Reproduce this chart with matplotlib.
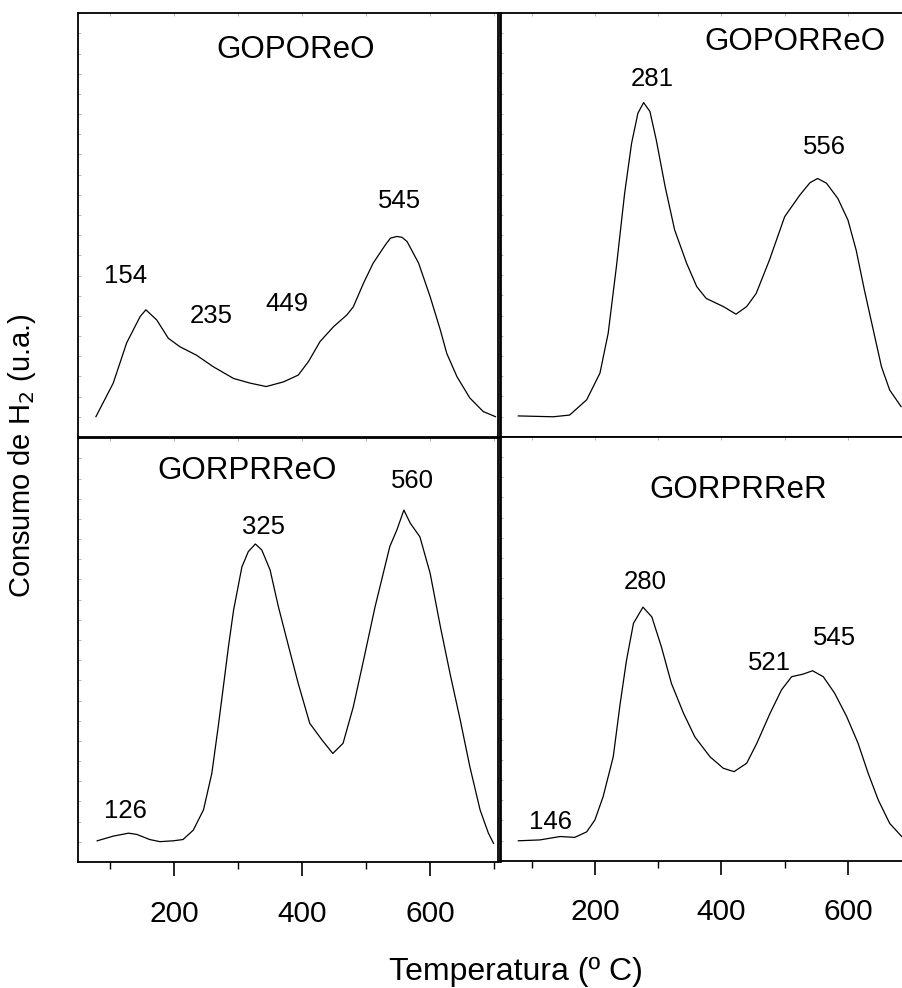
import matplotlib
matplotlib.use("Agg")
import matplotlib.pyplot as plt
from matplotlib.ticker import MultipleLocator, FixedLocator

plt.rcParams['font.family'] = ['Liberation Sans', 'DejaVu Sans']

# ---- data (temperature in ºC, H2 consumption in arbitrary units) ----
t_gopo = [78, 105, 126, 147, 156, 173, 191, 209, 235, 261, 293, 319, 344, 371, 394,
          410, 428, 449, 470, 480, 496, 511, 530, 538, 548, 556, 564, 582, 600, 616, 626,
          642, 662, 683, 702]
h_gopo = [4.8, 12.7, 22.2, 28.4, 30.0, 27.6, 23.3, 21.3, 19.3, 16.6, 13.8, 12.7, 11.9,
          13.0, 14.6, 17.8, 22.5, 26.0, 28.8, 30.7, 36.3, 41.0, 45.3, 46.9, 47.3, 47.1,
          46.1, 41.0, 33.1, 25.2, 19.7, 14.2, 9.2, 6.0, 4.8]

t_goporr = [79, 134, 160, 187, 208, 221, 234, 247, 258, 268, 277, 287, 297, 311, 326,
            345, 361, 376, 403, 423, 440, 455, 476, 500, 524, 540, 552, 566, 584, 600,
            613, 626, 640, 653, 666, 684]
h_goporr = [4.9, 4.7, 5.1, 8.7, 15.0, 24.4, 40.1, 57.4, 69.2, 76.3, 78.8, 76.7, 70.0,
            59.0, 48.8, 40.9, 35.4, 32.6, 30.7, 28.9, 30.7, 33.8, 41.7, 51.9, 57.0, 59.9,
            60.9, 59.8, 56.2, 51.1, 44.0, 34.6, 25.2, 16.5, 11.0, 7.1]

t_gorpro = [80, 105, 129, 142, 162, 178, 199, 214, 230, 246, 259, 269, 277, 285, 293,
            306, 316, 327, 337, 350, 363, 379, 394, 412, 431, 448, 464, 480, 496, 514,
            537, 548, 559, 569, 584, 600, 616, 631, 647, 662, 678, 691, 699]
h_gorpro = [5.0, 6.1, 6.8, 6.5, 5.3, 4.8, 5.0, 5.3, 7.5, 12.3, 20.9, 31.9, 41.3, 50.8,
            59.4, 69.6, 73.2, 75.0, 73.6, 68.9, 60.2, 50.8, 42.1, 32.7, 28.8, 25.6, 28.0,
            36.6, 47.6, 60.2, 74.4, 78.3, 83.0, 79.9, 76.7, 68.1, 55.5, 44.5, 33.5, 22.5,
            12.3, 6.8, 4.4]

t_gorprr = [79, 113, 145, 168, 187, 200, 213, 229, 240, 250, 261, 276, 290, 305, 321,
            340, 358, 382, 403, 420, 440, 456, 477, 495, 511, 529, 544, 561, 579, 598,
            616, 632, 648, 666, 685]
h_gorprr = [4.7, 4.9, 5.7, 5.5, 6.8, 9.6, 15.1, 24.5, 37.1, 47.3, 56.0, 59.8, 57.5, 50.5,
            41.8, 34.8, 29.2, 24.5, 21.8, 21.0, 23.0, 27.7, 34.8, 40.3, 43.4, 44.0, 44.8,
            43.4, 39.5, 34.0, 27.7, 20.6, 14.3, 8.8, 5.7]

titles = ["GOPOReO", "GOPORReO", "GORPRReO", "GORPRReR"]
title_pos = [(390, 91.3), (516, 93.2), (314, 92.1), (426, 87.4)]

peak_labels = [
    ["154", "235", "449", "545"],
    ["281", "556"],
    ["126", "325", "560"],
    ["146", "280", "521", "545"],
]
peak_pos = [
    [(124, 38.0), (258, 28.5), (376, 31.4), (552, 55.7)],
    [(290, 84.4), (563, 68.4)],
    [(124, 12.1), (340, 79.1), (573, 89.9)],
    [(130, 9.2), (279, 65.8), (476, 46.7), (579, 52.5)],
]

xticks_major = [200, 400, 600]
xticks_minor = [100, 300, 500, 700]
xlim = (50, 706)
ylim = (0, 100)

W, H = 902, 988
fig = plt.figure(figsize=(W / 100, H / 100), dpi=100)

def px_axes(left, top, width, height):
    return fig.add_axes([left / W, (H - top - height) / H, width / W, height / H])

axes = [
    px_axes(78, 13, 420, 424),
    px_axes(500, 12.7, 415, 424),
    px_axes(78, 438, 420, 424),
    px_axes(500, 436.7, 415, 424),
]
series = [(t_gopo, h_gopo), (t_goporr, h_goporr), (t_gorpro, h_gorpro), (t_gorprr, h_gorprr)]

for i, ax in enumerate(axes):
    t, h = series[i]
    ax.plot(t, h, color='black', lw=0.9, solid_joinstyle='round')
    ax.set_xlim(*xlim)
    ax.set_ylim(*ylim)
    for s in ax.spines.values():
        s.set_linewidth(1.3)
    if i in (1, 3):
        ax.spines['left'].set_linewidth(2.0)
    ax.text(*title_pos[i], titles[i], fontsize=22.5, ha='center', va='center')
    for lab, (x, y) in zip(peak_labels[i], peak_pos[i]):
        ax.text(x, y, lab, fontsize=18.5, ha='center', va='center')
    # faint inner ticks on the left side
    ax.yaxis.set_major_locator(MultipleLocator(4.76))
    ax.tick_params(axis='y', direction='in', length=2, width=0.5, colors='0.6',
                   labelleft=False)
    ax.xaxis.set_major_locator(FixedLocator(xticks_major))
    ax.xaxis.set_minor_locator(FixedLocator(xticks_minor))
    if i >= 2:
        ax.tick_params(axis='x', which='major', direction='out', length=10, width=1.2,
                       labelsize=21.5, pad=17)
        ax.tick_params(axis='x', which='minor', direction='out', length=5, width=1.0)
        sec = ax.secondary_xaxis('top')
        sec.set_xticks(xticks_major + xticks_minor)
        sec.tick_params(direction='in', length=2, width=0.5, colors='0.6', labeltop=False)
        sec.spines['top'].set_visible(False)
    else:
        ax.tick_params(axis='x', which='both', bottom=False, labelbottom=False,
                       top=True, direction='in', length=2, width=0.5, colors='0.6')

fig.text(516 / W, 1 - 972 / H, "Temperatura (º C)", fontsize=23, ha='center', va='center')
fig.text(22 / W, 1 - 456 / H, "Consumo de H$_2$ (u.a.)", fontsize=21, ha='center',
         va='center', rotation=90)

fig.savefig("out.png", dpi=100)
